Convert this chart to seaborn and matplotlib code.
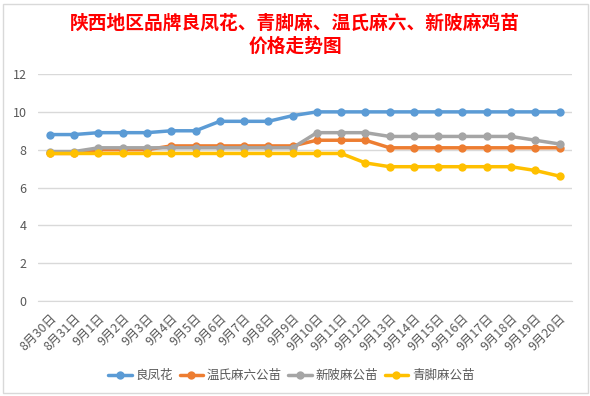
import matplotlib
matplotlib.use('Agg')
import matplotlib.pyplot as plt
import seaborn as sns
import pandas as pd
from matplotlib.patches import Rectangle

# Datos
fechas = ['8月30日', '8月31日'] + [f'9月{d}日' for d in range(1, 21)]
liangfenghua = [8.8, 8.8, 8.9, 8.9, 8.9, 9.0, 9.0, 9.5, 9.5, 9.5, 9.8,
                10, 10, 10, 10, 10, 10, 10, 10, 10, 10, 10]
wenshi = [7.8, 7.8, 8.0, 8.0, 8.0, 8.2, 8.2, 8.2, 8.2, 8.2, 8.2,
          8.5, 8.5, 8.5, 8.1, 8.1, 8.1, 8.1, 8.1, 8.1, 8.1, 8.1]
xinlingma = [7.9, 7.9, 8.1, 8.1, 8.1, 8.1, 8.1, 8.1, 8.1, 8.1, 8.1,
             8.9, 8.9, 8.9, 8.7, 8.7, 8.7, 8.7, 8.7, 8.7, 8.5, 8.3]
qingjiaoma = [7.8, 7.8, 7.8, 7.8, 7.8, 7.8, 7.8, 7.8, 7.8, 7.8, 7.8,
              7.8, 7.8, 7.3, 7.1, 7.1, 7.1, 7.1, 7.1, 7.1, 6.9, 6.6]
series = ['良凤花', '温氏麻六公苗', '新陂麻公苗', '青脚麻公苗']
colores = ['#5B9BD5', '#ED7D31', '#A5A5A5', '#FFC000']

sns.set_style('white')
plt.rcParams['font.family'] = ['Noto Sans CJK SC', 'DejaVu Sans']

df = pd.DataFrame({
    'x': list(range(len(fechas))) * 4,
    'precio': liangfenghua + wenshi + xinlingma + qingjiaoma,
    'serie': sum([[s] * len(fechas) for s in series], []),
})

fig = plt.figure(figsize=(5.9, 3.96), dpi=100)
ax = fig.add_axes([0.064, 0.24, 0.905, 0.573])

sns.lineplot(data=df, x='x', y='precio', hue='serie', hue_order=series,
             palette=colores, marker='o', markersize=6, linewidth=2.5,
             markeredgewidth=0, ax=ax)

ax.set_xlim(-0.5, len(fechas) - 0.5)
ax.set_ylim(0, 12)
ax.set_yticks(range(0, 13, 2))
ax.set_xticks(range(len(fechas)))
ax.set_xticklabels(fechas, rotation=45, ha='right', rotation_mode='anchor')
ax.tick_params(axis='x', length=0, pad=8, labelsize=9, labelcolor='#595959')
ax.tick_params(axis='y', length=0, pad=8, labelsize=9, labelcolor='#595959')
ax.set_xticks([i - 0.5 for i in range(len(fechas) + 1)], minor=True)
ax.tick_params(axis='x', which='minor', length=5, color='#D9D9D9', direction='out')
ax.yaxis.grid(True, color='#D9D9D9', linewidth=1)
ax.set_axisbelow(True)
ax.set_xlabel('')
ax.set_ylabel('')
for lado in ['top', 'right', 'left']:
    ax.spines[lado].set_visible(False)
ax.spines['bottom'].set_color('#D9D9D9')

leg = ax.legend(loc='upper center', bbox_to_anchor=(0.475, -0.25), ncol=4,
                frameon=False, fontsize=9, handlelength=1.9, columnspacing=0.5,
                handletextpad=0.3)
for t in leg.get_texts():
    t.set_color('#595959')

fig.text(0.5, 0.912, '陕西地区品牌良凤花、青脚麻、温氏麻六、新陂麻鸡苗\n价格走势图',
         ha='center', va='center', color='red', fontsize=13.5, fontweight='bold',
         linespacing=1.25)

# Borde del gráfico
fig.patches.append(Rectangle((2.5 / 590, 3.5 / 396), 585 / 590, 389 / 396,
                             transform=fig.transFigure, fill=False,
                             edgecolor='#D9D9D9', linewidth=1))

fig.savefig('out.png', dpi=100)
